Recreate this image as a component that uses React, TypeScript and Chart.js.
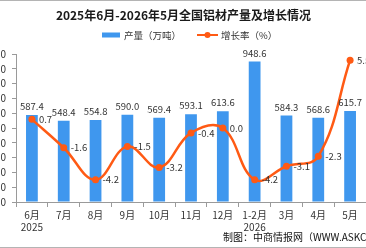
import React, { useEffect, useRef } from "react";
import { Chart, registerables } from "chart.js";

Chart.register(...registerables);

// Months from June 2025 to May 2026 (Jan–Feb combined)
const categories: (string | string[])[] = [
  ["6月", "2025"], "7月", "8月", "9月", "10月", "11月", "12月",
  ["1-2月", "2026"], "3月", "4月", "5月",
];
// Aluminium products output, 10k tonnes
const output = [587.4, 548.4, 554.8, 590.0, 569.4, 593.1, 613.6, 948.6, 584.3, 568.6, 615.7];
// Year-on-year growth, %
const growth = [0.7, -1.6, -4.2, -1.5, -3.2, -0.4, 0.0, -4.2, -3.1, -2.3, 5.5];

const outputAxis = { min: 0, max: 1000, step: 100 };
const growthAxis = { min: -6, max: 6 };

const TITLE = "2025年6月-2026年5月全国铝材产量及增长情况";
const OUTPUT_LABEL = "产量（万吨）";
const GROWTH_LABEL = "增长率（%）";
const SOURCE = "制图：中商情报网（WWW.ASKCI.COM）";

const FONT = '"Noto Sans CJK SC", "Noto Sans", sans-serif';
const BLUE = "#3F97EE";
const ORANGE = "#FF5A14";
const AXIS = "#9a9a9a";
const TEXT = "#333333";

// canvas is wider than the visible frame so the axes fall outside it
const SHIFT = 40;
const CANVAS_W = 366 + SHIFT * 2;
const CANVAS_H = 248;

const decorations = {
  id: "decorations",
  beforeDraw(chart: any) {
    const { ctx } = chart;
    ctx.save();
    ctx.fillStyle = "#ffffff";
    ctx.fillRect(0, 0, chart.width, chart.height);
    ctx.restore();
  },
  afterDatasetsDraw(chart: any) {
    const { ctx } = chart;
    ctx.save();
    ctx.font = `9.5px ${FONT}`;
    ctx.fillStyle = TEXT;
    // bar values above each bar
    const barMeta = chart.getDatasetMeta(1);
    ctx.textAlign = "center";
    ctx.textBaseline = "alphabetic";
    barMeta.data.forEach((el: any, i: number) => {
      ctx.fillText(output[i].toFixed(1), el.x, el.y - 5);
    });
    // growth values right of each point
    const lineMeta = chart.getDatasetMeta(0);
    ctx.textAlign = "left";
    ctx.textBaseline = "middle";
    lineMeta.data.forEach((el: any, i: number) => {
      ctx.fillText(growth[i].toFixed(1), el.x + 7, el.y);
    });
    ctx.restore();
  },
  afterDraw(chart: any) {
    const { ctx } = chart;
    ctx.save();
    // frame lines
    ctx.strokeStyle = "#b4b4b4";
    ctx.lineWidth = 1;
    ctx.beginPath();
    ctx.moveTo(0, 0.5);
    ctx.lineTo(chart.width, 0.5);
    ctx.moveTo(0, chart.height - 0.5);
    ctx.lineTo(chart.width, chart.height - 0.5);
    ctx.stroke();

    // title
    ctx.fillStyle = "#1a1a1a";
    ctx.font = `bold 12px ${FONT}`;
    ctx.textAlign = "center";
    ctx.textBaseline = "middle";
    ctx.fillText(TITLE, SHIFT + 183.5, 15);

    // legend
    const ly = 35;
    ctx.font = `9.5px ${FONT}`;
    ctx.textAlign = "left";
    ctx.fillStyle = BLUE;
    ctx.fillRect(SHIFT + 102, ly - 2.5, 18, 5);
    ctx.fillStyle = TEXT;
    ctx.fillText(OUTPUT_LABEL, SHIFT + 124, ly);

    ctx.strokeStyle = ORANGE;
    ctx.lineWidth = 2;
    ctx.beginPath();
    ctx.moveTo(SHIFT + 197, ly);
    ctx.lineTo(SHIFT + 218, ly);
    ctx.stroke();
    ctx.fillStyle = ORANGE;
    ctx.beginPath();
    ctx.arc(SHIFT + 207.5, ly, 3, 0, Math.PI * 2);
    ctx.fill();
    ctx.fillStyle = TEXT;
    ctx.fillText(GROWTH_LABEL, SHIFT + 221, ly);

    // source note
    ctx.fillStyle = "#111111";
    ctx.font = `10px ${FONT}`;
    ctx.fillText(SOURCE, SHIFT + 223, 237);
    ctx.restore();
  },
};

export default function App() {
  const ref = useRef<HTMLCanvasElement>(null);

  useEffect(() => {
    if (!ref.current) return;
    const chart = new Chart(ref.current, {
      type: "bar",
      data: {
        labels: categories as any,
        datasets: [
          {
            type: "line",
            label: GROWTH_LABEL,
            data: growth,
            yAxisID: "y1",
            borderColor: ORANGE,
            backgroundColor: ORANGE,
            borderWidth: 2.5,
            pointRadius: 3.5,
            pointBackgroundColor: ORANGE,
            pointBorderWidth: 0,
            tension: 0.4,
            order: 0,
          } as any,
          {
            type: "bar",
            label: OUTPUT_LABEL,
            data: output,
            yAxisID: "y",
            backgroundColor: BLUE,
            categoryPercentage: 1,
            barPercentage: 0.37,
            order: 1,
          },
        ],
      },
      options: {
        responsive: false,
        animation: false,
        devicePixelRatio: 1,
        layout: { padding: { top: 54, right: SHIFT, bottom: 0, left: 0 } },
        plugins: {
          legend: { display: false },
          title: { display: false },
          tooltip: { enabled: false },
        },
        scales: {
          x: {
            type: "category",
            grid: {
              offset: true,
              drawOnChartArea: false,
              tickLength: 5,
              color: AXIS,
            },
            border: { color: AXIS },
            ticks: {
              color: TEXT,
              font: { family: FONT, size: 10, lineHeight: 1.2 },
              padding: 2,
              maxRotation: 0,
              autoSkip: false,
            },
            afterFit: (s: any) => {
              s.height = 46;
            },
          },
          y: {
            position: "left",
            min: outputAxis.min,
            max: outputAxis.max,
            grid: { drawOnChartArea: false, tickLength: 4, color: AXIS },
            border: { color: AXIS },
            ticks: {
              stepSize: outputAxis.step,
              autoSkip: false,
              color: TEXT,
              font: { family: FONT, size: 10 },
              padding: 6,
            },
            afterFit: (s: any) => {
              s.width = 56;
            },
          },
          y1: {
            position: "right",
            display: false,
            min: growthAxis.min,
            max: growthAxis.max,
          },
        },
      } as any,
      plugins: [decorations],
    });
    return () => chart.destroy();
  }, []);

  return (
    <div
      style={{
        position: "fixed",
        left: 0,
        top: 0,
        width: 366,
        height: 248,
        overflow: "hidden",
        background: "#fff",
      }}
    >
      <canvas
        ref={ref}
        width={CANVAS_W}
        height={CANVAS_H}
        style={{ position: "absolute", left: -SHIFT, top: 0, width: CANVAS_W, height: CANVAS_H }}
      />
    </div>
  );
}
